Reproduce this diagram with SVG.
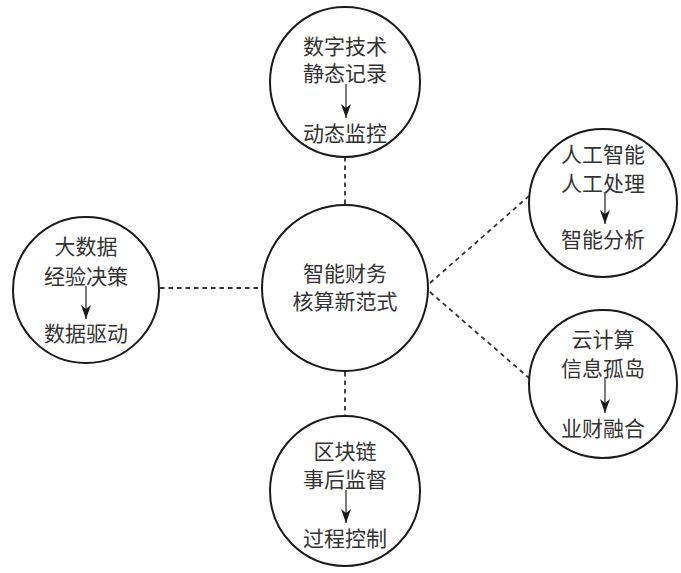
<svg xmlns="http://www.w3.org/2000/svg" width="681" height="573" viewBox="0 0 681 573">
<defs>
<style>
.c{fill:#fff;stroke:#1a1a1a;stroke-width:2}
.t{font-family:"Noto Sans CJK SC","Noto Sans",sans-serif;font-size:21px;fill:#333;text-anchor:middle;dominant-baseline:central}
.d{stroke:#333;stroke-width:1.8;stroke-dasharray:4.5 4;fill:none}
.a{stroke:#222;stroke-width:1.2;fill:none;marker-end:url(#ah)}
</style>
<marker id="ah" viewBox="0 0 14 10" refX="14" refY="5" markerWidth="14" markerHeight="10" markerUnits="userSpaceOnUse" orient="auto">
<path d="M0,0 L4,5 L0,10 L14,5 Z" fill="#1a1a1a"/>
</marker>
</defs>
<rect width="681" height="573" fill="#fff"/>
<g id="connectors">
<line class="d" x1="345" y1="157" x2="345" y2="204"/>
<line class="d" x1="345" y1="372" x2="345" y2="415"/>
<line class="d" x1="160" y1="288" x2="262" y2="288"/>
<line class="d" x1="430" y1="283" x2="529" y2="196"/>
<line class="d" x1="430" y1="292" x2="529" y2="378"/>
</g>
<g id="center">
<circle class="c" cx="345" cy="288" r="83"/>
<text class="t" x="345" y="272">智能财务</text>
<text class="t" x="345" y="300">核算新范式</text>
</g>
<g id="top">
<circle class="c" cx="345" cy="82" r="75"/>
<text class="t" x="345" y="45">数字技术</text>
<text class="t" x="345" y="72">静态记录</text>
<line class="a" x1="346" y1="84" x2="346" y2="118"/>
<text class="t" x="345" y="132">动态监控</text>
</g>
<g id="left">
<circle class="c" cx="86" cy="290" r="73"/>
<text class="t" x="86" y="245">大数据</text>
<text class="t" x="86" y="275">经验决策</text>
<line class="a" x1="86" y1="286" x2="86" y2="319"/>
<text class="t" x="86" y="332">数据驱动</text>
</g>
<g id="topright">
<circle class="c" cx="603" cy="203" r="74"/>
<text class="t" x="603" y="153">人工智能</text>
<text class="t" x="603" y="182">人工处理</text>
<line class="a" x1="605" y1="193" x2="605" y2="224"/>
<text class="t" x="603" y="238">智能分析</text>
</g>
<g id="bottomright">
<circle class="c" cx="603" cy="384" r="74"/>
<text class="t" x="603" y="338">云计算</text>
<text class="t" x="603" y="367">信息孤岛</text>
<line class="a" x1="605" y1="378" x2="605" y2="413"/>
<text class="t" x="603" y="427">业财融合</text>
</g>
<g id="bottom">
<circle class="c" cx="345" cy="491" r="75"/>
<text class="t" x="345" y="450">区块链</text>
<text class="t" x="345" y="478">事后监督</text>
<line class="a" x1="346" y1="490" x2="346" y2="523"/>
<text class="t" x="345" y="537">过程控制</text>
</g>
</svg>
